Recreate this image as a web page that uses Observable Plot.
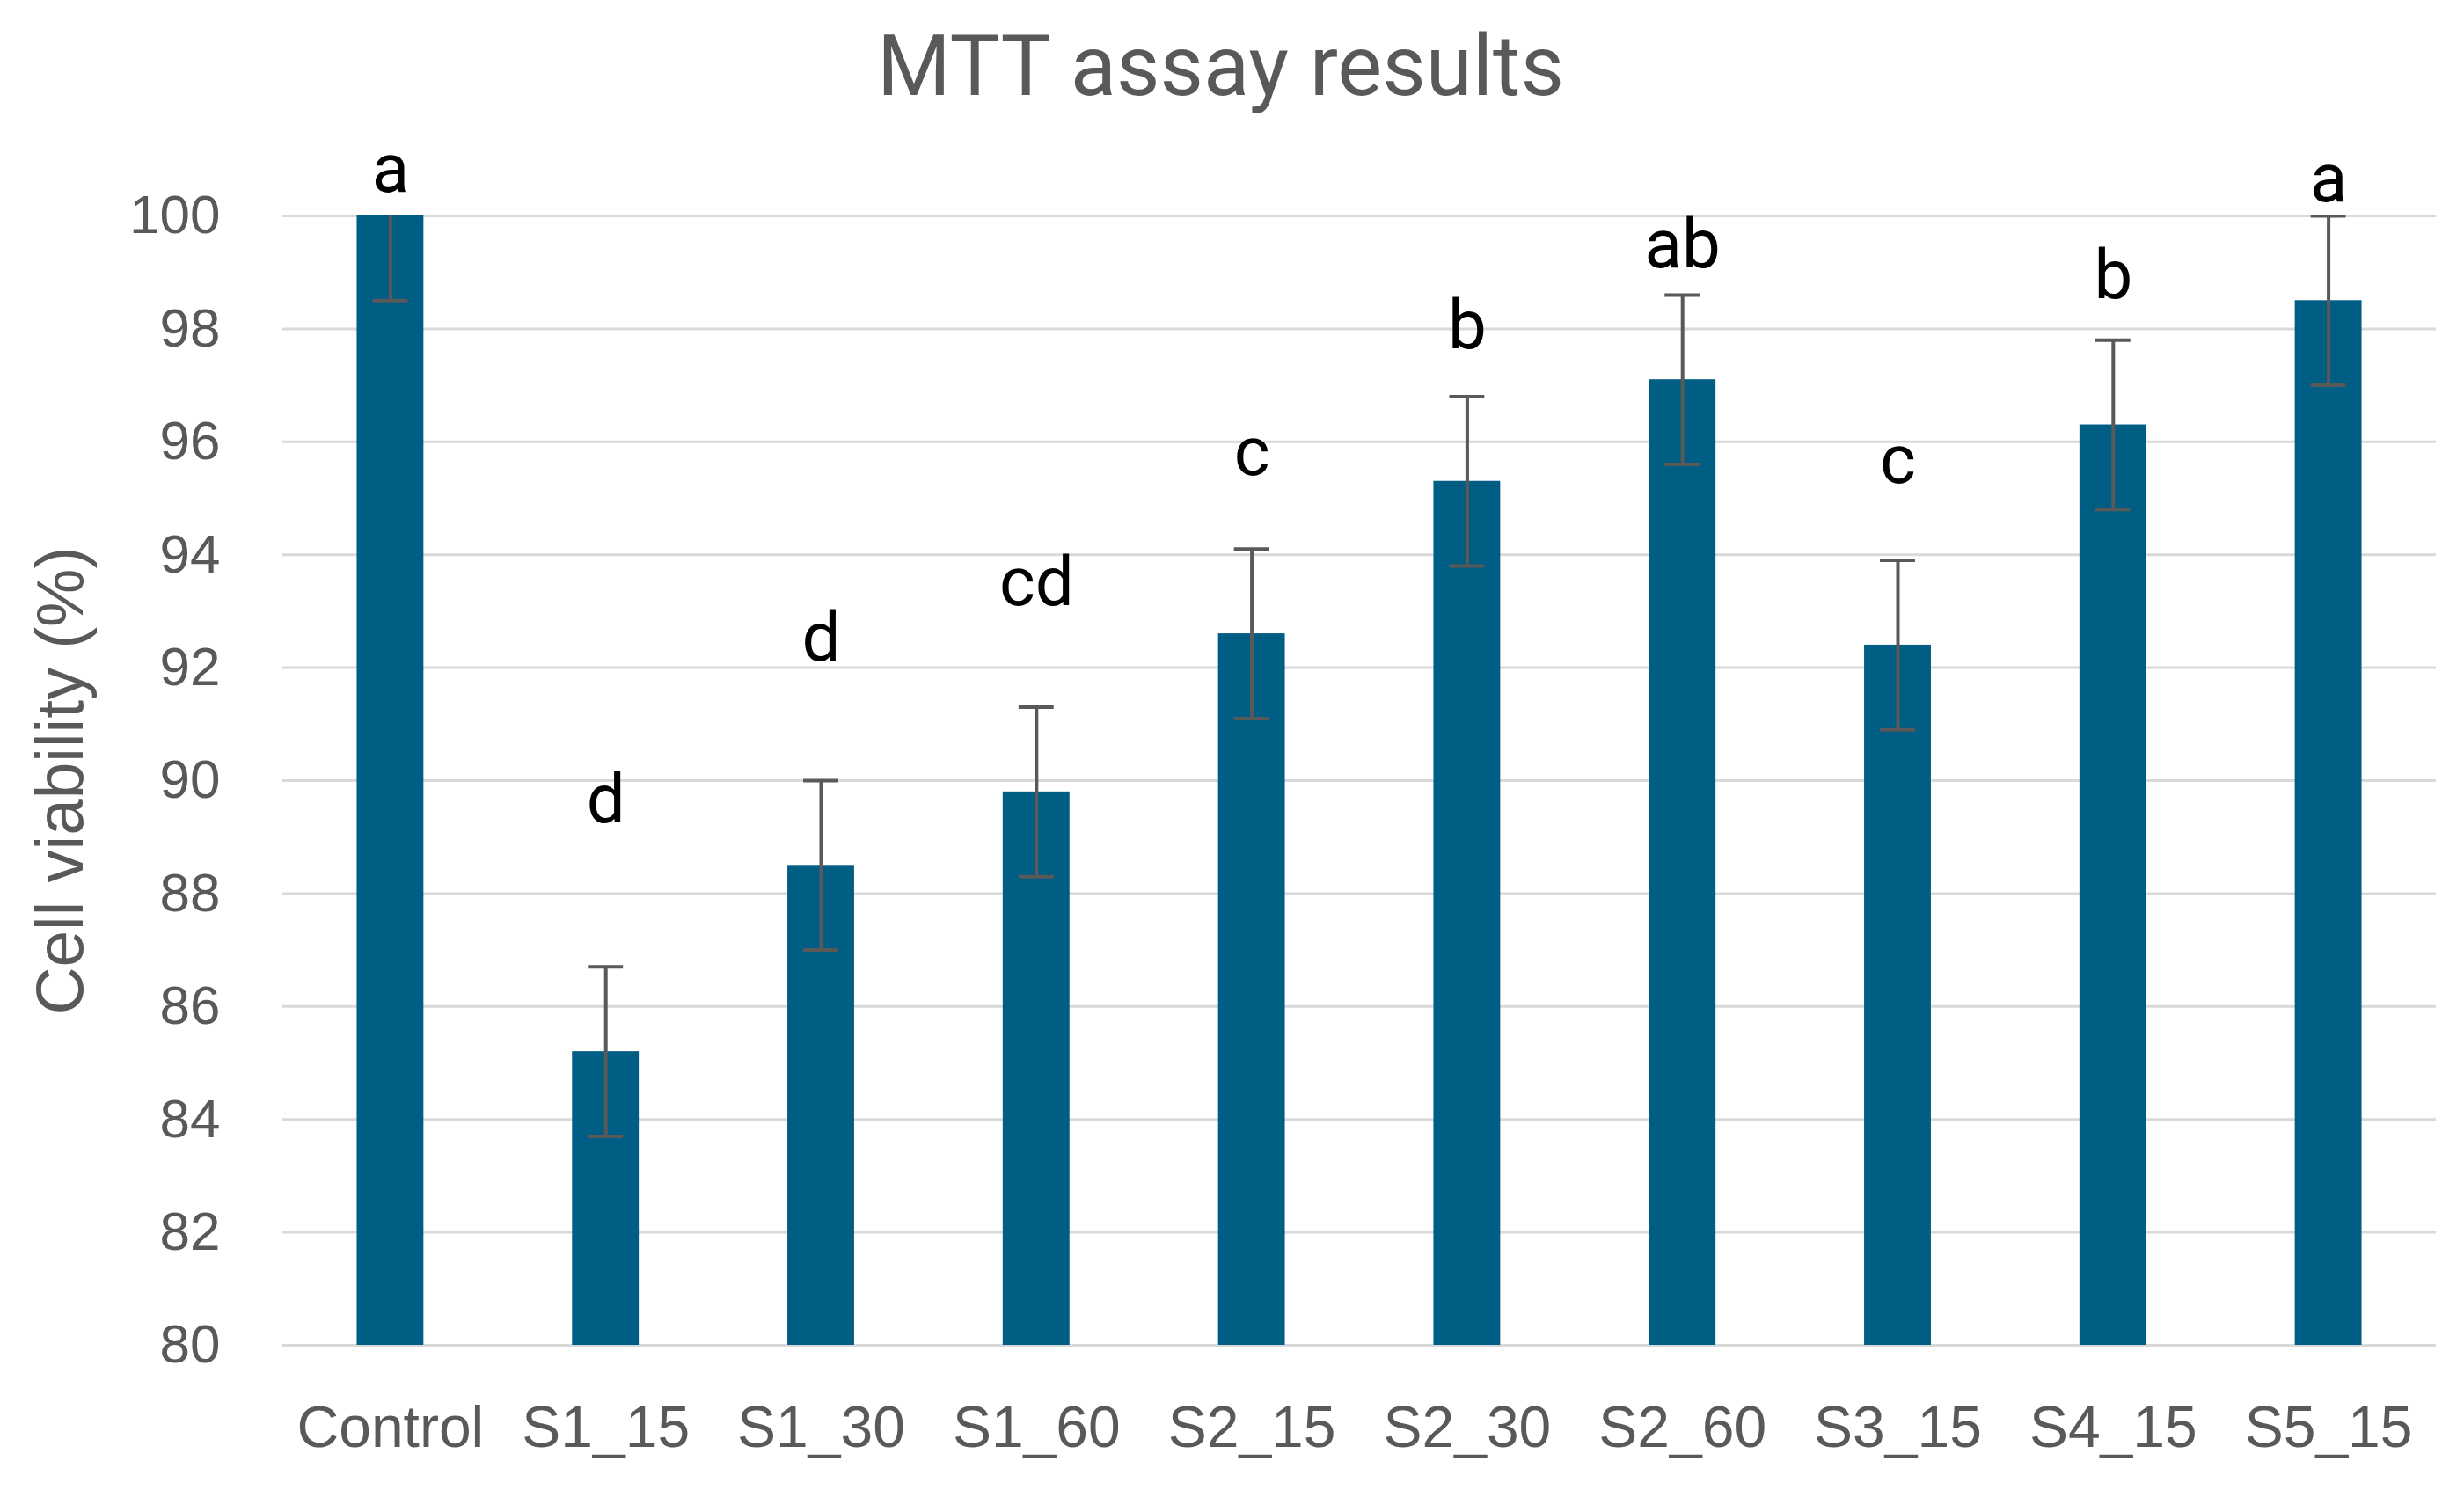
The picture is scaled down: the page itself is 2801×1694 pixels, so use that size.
<!DOCTYPE html>
<html><head><meta charset="utf-8">
<script src="https://cdn.jsdelivr.net/npm/d3@7"></script>
<script src="https://cdn.jsdelivr.net/npm/@observablehq/plot@0.6"></script>
<style>
html,body{margin:0;padding:0;background:#fff;overflow:hidden;}
#title{width:2801px;height:150px;line-height:150px;text-align:center;font-family:Roboto,sans-serif;font-size:96px;color:#595959;box-sizing:border-box;padding-right:26px;}
</style></head><body>
<div id="title">MTT assay results</div>
<div id="chart"></div>
<script>
const categories = ["Control","S1_15","S1_30","S1_60","S2_15","S2_30","S2_60","S3_15","S4_15","S5_15"];
const viability = [100, 85.2, 88.5, 89.8, 92.6, 95.3, 97.1, 92.4, 96.3, 98.5];
const errors = [1.5, 1.5, 1.5, 1.5, 1.5, 1.5, 1.5, 1.5, 1.5, 1.5];
const letters = ["a","d","d","cd","c","b","ab","c","b","a"];
const letterY = [100.81, 89.65, 92.52, 93.49, 95.80, 98.05, 99.47, 95.66, 98.94, 100.64];
const yTicks = [80, 82, 84, 86, 88, 90, 92, 94, 96, 98, 100];
const yLabel = "Cell viability (%)";

const data = categories.map((c, i) => ({
  category: c, value: viability[i],
  lo: viability[i] - errors[i], hi: viability[i] + errors[i],
  letter: letters[i], ly: letterY[i]
}));

const chart = Plot.plot({
  width: 2801, height: 1544,
  marginTop: 95, marginBottom: 165, marginLeft: 321, marginRight: 32,
  style: {fontFamily: "'Liberation Sans', Arial, sans-serif", background: "#fff", color: "#595959", overflow: "visible"},
  x: {domain: categories, paddingInner: 0.69, paddingOuter: 0.345, round: false, label: null},
  y: {domain: [80, 100], label: null},
  marks: [
    Plot.gridY(yTicks, {stroke: "#d9d9d9", strokeOpacity: 1, strokeWidth: 3}),
    Plot.axisY(yTicks, {tickSize: 0, tickPadding: 71, fontSize: 62, fill: "#595959", tickFormat: "d", label: null}),
    Plot.axisX({tickSize: 0, tickPadding: 69, fontSize: 66, fill: "#595959", label: null}),
    Plot.barY(data, {x: "category", y: "value", fill: "#005e85", clip: true}),
    Plot.ruleX(data, {x: "category", y1: "lo", y2: "hi", stroke: "#595959", strokeWidth: 4, clip: true}),
    Plot.tickY(data, {x: "category", y: "lo", stroke: "#595959", strokeWidth: 4, inset: 18, clip: true}),
    Plot.tickY(data, {x: "category", y: "hi", stroke: "#595959", strokeWidth: 4, inset: 18, clip: true}),
    Plot.text(data, {x: "category", y: "ly", text: "letter", fontSize: 78, fontFamily: "Roboto", fill: "#000"}),
    Plot.text([yLabel], {text: d => d, frameAnchor: "left", textAnchor: "middle", rotate: -90, dx: -252, fontSize: 76, fill: "#595959", className: "ylab"})
  ]
});
d3.select(chart).selectAll(".ylab text").attr("textLength", 532).attr("lengthAdjust", "spacingAndGlyphs");
document.getElementById("chart").appendChild(chart);
</script>
</body></html>
